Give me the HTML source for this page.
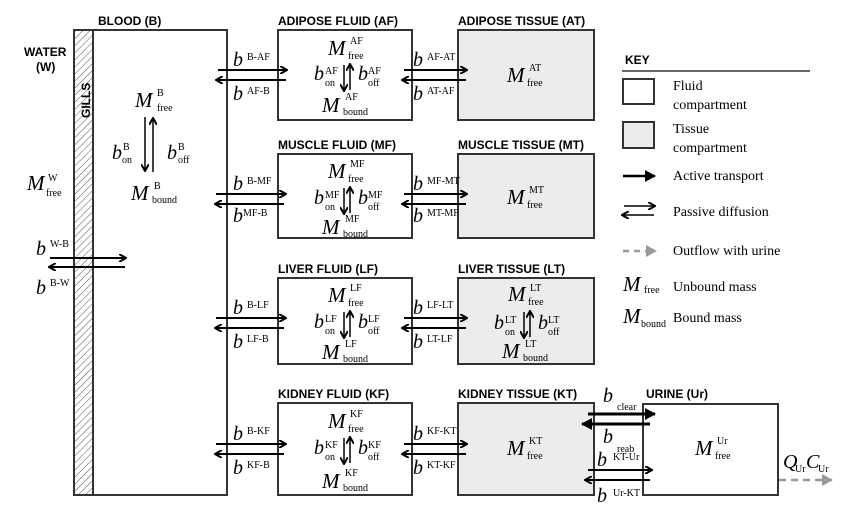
<!DOCTYPE html>
<html><head><meta charset="utf-8"><style>
html,body{margin:0;padding:0;background:#fff;}
svg{display:block;}
.h{font-family:"Liberation Sans",sans-serif;font-weight:bold;font-size:12px;}
.m{font-family:"Liberation Serif",serif;font-style:italic;font-size:21px;}
.b{font-family:"Liberation Serif",serif;font-style:italic;font-size:20px;}
.s{font-family:"Liberation Serif",serif;font-size:10px;font-style:normal;}
.k{font-family:"Liberation Serif",serif;font-size:14px;}
</style></head><body>
<svg width="860" height="506" viewBox="0 0 860 506" xmlns="http://www.w3.org/2000/svg">
<defs>
<pattern id="hatch" width="5" height="5" patternUnits="userSpaceOnUse" patternTransform="rotate(45)">
<line x1="0" y1="0" x2="0" y2="5" stroke="#555" stroke-width="1"/></pattern>
<marker id="ah" markerWidth="8" markerHeight="8" refX="6" refY="4" orient="auto" markerUnits="userSpaceOnUse">
<path d="M0,0 L7,4 L0,8" fill="none" stroke="#000" stroke-width="2"/></marker>
<marker id="ahb" markerWidth="12" markerHeight="12" refX="10" refY="6" orient="auto" markerUnits="userSpaceOnUse">
<path d="M0,0 L11,6 L0,12 Z" fill="#000"/></marker>
<marker id="ahg" markerWidth="12" markerHeight="12" refX="10" refY="6" orient="auto" markerUnits="userSpaceOnUse">
<path d="M0,0 L11,6 L0,12 Z" fill="#999"/></marker>
</defs>
<g fill="none" stroke="#333" stroke-width="2">
<rect x="74" y="30" width="153" height="465" fill="#fff"/>
<rect x="74" y="30" width="19" height="465" fill="url(#hatch)"/>
<rect x="278" y="30" width="134" height="90"/>
<rect x="278" y="154" width="134" height="84"/>
<rect x="278" y="278" width="134" height="86"/>
<rect x="278" y="403" width="134" height="92"/>
<rect x="458" y="30" width="136" height="90" fill="#ececec"/>
<rect x="458" y="154" width="136" height="84" fill="#ececec"/>
<rect x="458" y="278" width="136" height="86" fill="#ececec"/>
<rect x="458" y="403" width="136" height="92" fill="#ececec"/>
<rect x="643" y="404" width="135" height="91" fill="#fff"/>
</g>
<text class="h" x="98" y="25">BLOOD (B)</text>
<text class="h" x="278" y="25">ADIPOSE FLUID (AF)</text>
<text class="h" x="458" y="25">ADIPOSE TISSUE (AT)</text>
<text class="h" x="278" y="149">MUSCLE FLUID (MF)</text>
<text class="h" x="458" y="149">MUSCLE TISSUE (MT)</text>
<text class="h" x="278" y="273">LIVER FLUID (LF)</text>
<text class="h" x="458" y="273">LIVER TISSUE (LT)</text>
<text class="h" x="278" y="398">KIDNEY FLUID (KF)</text>
<text class="h" x="458" y="398">KIDNEY TISSUE (KT)</text>
<text class="h" x="646" y="398">URINE (Ur)</text>
<text class="h" x="24" y="56">WATER</text>
<text class="h" x="36" y="71">(W)</text>
<text class="h" transform="translate(90,118) rotate(-90)">GILLS</text>

<text class="m" x="27" y="190">M</text><text class="s" x="48" y="181">W</text><text class="s" x="46" y="196">free</text>
<text class="b" x="36" y="255">b</text><text class="s" x="50" y="247">W-B</text>
<text class="b" x="36" y="294">b</text><text class="s" x="50" y="286">B-W</text>
<g stroke="#000" stroke-width="2"><line x1="50" y1="258" x2="125" y2="258" marker-end="url(#ah)"/><line x1="125" y1="267" x2="50" y2="267" marker-end="url(#ah)"/></g>

<text class="m" x="135" y="107">M</text><text class="s" x="157" y="96">B</text><text class="s" x="157" y="111">free</text>
<g stroke="#000" stroke-width="1.5"><line x1="145" y1="117" x2="145" y2="170" marker-end="url(#ah)"/><line x1="153" y1="172" x2="153" y2="119" marker-end="url(#ah)"/></g>
<text class="b" x="112" y="159">b</text><text class="s" x="123" y="150">B</text><text class="s" x="122" y="163">on</text>
<text class="b" x="167" y="159">b</text><text class="s" x="178" y="150">B</text><text class="s" x="178" y="163">off</text>
<text class="m" x="131" y="200">M</text><text class="s" x="154" y="189">B</text><text class="s" x="152" y="203">bound</text>

<g stroke="#000" stroke-width="2">
<line x1="218" y1="70" x2="286" y2="70" marker-end="url(#ah)"/><line x1="286" y1="80" x2="217" y2="80" marker-end="url(#ah)"/>
<line x1="216" y1="194" x2="285" y2="194" marker-end="url(#ah)"/><line x1="284" y1="204" x2="216" y2="204" marker-end="url(#ah)"/>
<line x1="216" y1="318" x2="285" y2="318" marker-end="url(#ah)"/><line x1="284" y1="328" x2="216" y2="328" marker-end="url(#ah)"/>
<line x1="216" y1="444" x2="285" y2="444" marker-end="url(#ah)"/><line x1="284" y1="454" x2="216" y2="454" marker-end="url(#ah)"/>
<line x1="404" y1="70" x2="466" y2="70" marker-end="url(#ah)"/><line x1="466" y1="80" x2="403" y2="80" marker-end="url(#ah)"/>
<line x1="404" y1="194" x2="466" y2="194" marker-end="url(#ah)"/><line x1="466" y1="204" x2="403" y2="204" marker-end="url(#ah)"/>
<line x1="404" y1="318" x2="466" y2="318" marker-end="url(#ah)"/><line x1="466" y1="328" x2="403" y2="328" marker-end="url(#ah)"/>
<line x1="404" y1="444" x2="466" y2="444" marker-end="url(#ah)"/><line x1="466" y1="454" x2="403" y2="454" marker-end="url(#ah)"/>
<line x1="588" y1="470" x2="651" y2="470" marker-end="url(#ah)"/><line x1="650" y1="480" x2="586" y2="480" marker-end="url(#ah)"/>
<line x1="588" y1="414" x2="655" y2="414" stroke-width="3" marker-end="url(#ahb)"/><line x1="650" y1="424" x2="582" y2="424" stroke-width="3" marker-end="url(#ahb)"/>
</g>
<g>
<text class="b" x="233" y="66">b</text><text class="s" x="247" y="60">B-AF</text>
<text class="b" x="233" y="100">b</text><text class="s" x="247" y="94">AF-B</text>
<text class="b" x="233" y="190">b</text><text class="s" x="247" y="184">B-MF</text>
<text class="b" x="233" y="222">b</text><text class="s" x="243" y="216">MF-B</text>
<text class="b" x="233" y="314">b</text><text class="s" x="247" y="308">B-LF</text>
<text class="b" x="233" y="348">b</text><text class="s" x="247" y="342">LF-B</text>
<text class="b" x="233" y="440">b</text><text class="s" x="247" y="434">B-KF</text>
<text class="b" x="233" y="474">b</text><text class="s" x="247" y="468">KF-B</text>
<text class="b" x="413" y="66">b</text><text class="s" x="427" y="60">AF-AT</text>
<text class="b" x="413" y="100">b</text><text class="s" x="427" y="94">AT-AF</text>
<text class="b" x="413" y="190">b</text><text class="s" x="427" y="184">MF-MT</text>
<text class="b" x="413" y="222">b</text><text class="s" x="427" y="216">MT-MF</text>
<text class="b" x="413" y="314">b</text><text class="s" x="427" y="308">LF-LT</text>
<text class="b" x="413" y="348">b</text><text class="s" x="427" y="342">LT-LF</text>
<text class="b" x="413" y="440">b</text><text class="s" x="427" y="434">KF-KT</text>
<text class="b" x="413" y="474">b</text><text class="s" x="427" y="468">KT-KF</text>
<text class="b" x="603" y="402">b</text><text class="s" x="617" y="410">clear</text>
<text class="b" x="603" y="443">b</text><text class="s" x="617" y="452">reab</text>
<text class="b" x="597" y="466">b</text><text class="s" x="613" y="460">KT-Ur</text>
<text class="b" x="597" y="502">b</text><text class="s" x="613" y="496">Ur-KT</text>
</g>
<g>
<text class="m" x="328" y="55">M</text><text class="s" x="350" y="44">AF</text><text class="s" x="348" y="59">free</text>
<text class="b" x="314" y="80">b</text><text class="s" x="325" y="74">AF</text><text class="s" x="325" y="86">on</text>
<text class="b" x="358" y="80">b</text><text class="s" x="368" y="74">AF</text><text class="s" x="368" y="86">off</text>
<text class="m" x="322" y="112">M</text><text class="s" x="345" y="100">AF</text><text class="s" x="343" y="115">bound</text>

<text class="m" x="328" y="178">M</text><text class="s" x="350" y="167">MF</text><text class="s" x="348" y="182">free</text>
<text class="b" x="314" y="204">b</text><text class="s" x="325" y="198">MF</text><text class="s" x="325" y="210">on</text>
<text class="b" x="358" y="204">b</text><text class="s" x="368" y="198">MF</text><text class="s" x="368" y="210">off</text>
<text class="m" x="322" y="234">M</text><text class="s" x="345" y="222">MF</text><text class="s" x="343" y="237">bound</text>

<text class="m" x="328" y="302">M</text><text class="s" x="350" y="291">LF</text><text class="s" x="348" y="306">free</text>
<text class="b" x="314" y="328">b</text><text class="s" x="325" y="322">LF</text><text class="s" x="325" y="334">on</text>
<text class="b" x="358" y="328">b</text><text class="s" x="368" y="322">LF</text><text class="s" x="368" y="334">off</text>
<text class="m" x="322" y="359">M</text><text class="s" x="345" y="347">LF</text><text class="s" x="343" y="362">bound</text>

<text class="m" x="328" y="428">M</text><text class="s" x="350" y="417">KF</text><text class="s" x="348" y="432">free</text>
<text class="b" x="314" y="454">b</text><text class="s" x="325" y="448">KF</text><text class="s" x="325" y="460">on</text>
<text class="b" x="358" y="454">b</text><text class="s" x="368" y="448">KF</text><text class="s" x="368" y="460">off</text>
<text class="m" x="322" y="488">M</text><text class="s" x="345" y="476">KF</text><text class="s" x="343" y="491">bound</text>

<text class="m" x="508" y="301">M</text><text class="s" x="530" y="291">LT</text><text class="s" x="528" y="305">free</text>
<text class="b" x="494" y="329">b</text><text class="s" x="505" y="323">LT</text><text class="s" x="505" y="335">on</text>
<text class="b" x="538" y="329">b</text><text class="s" x="548" y="323">LT</text><text class="s" x="548" y="335">off</text>
<text class="m" x="502" y="358">M</text><text class="s" x="525" y="347">LT</text><text class="s" x="523" y="361">bound</text>

<text class="m" x="507" y="82">M</text><text class="s" x="529" y="71">AT</text><text class="s" x="527" y="86">free</text>
<text class="m" x="507" y="204">M</text><text class="s" x="529" y="193">MT</text><text class="s" x="527" y="208">free</text>
<text class="m" x="507" y="455">M</text><text class="s" x="529" y="444">KT</text><text class="s" x="527" y="459">free</text>
<text class="m" x="695" y="455">M</text><text class="s" x="717" y="444">Ur</text><text class="s" x="715" y="459">free</text>
</g>
<g stroke="#000" stroke-width="1.5">
<line x1="344" y1="65" x2="344" y2="90" marker-end="url(#ah)"/><line x1="350" y1="90" x2="350" y2="65" marker-end="url(#ah)"/>
<line x1="344" y1="188" x2="344" y2="213" marker-end="url(#ah)"/><line x1="350" y1="213" x2="350" y2="188" marker-end="url(#ah)"/>
<line x1="344" y1="312" x2="344" y2="337" marker-end="url(#ah)"/><line x1="350" y1="337" x2="350" y2="312" marker-end="url(#ah)"/>
<line x1="344" y1="438" x2="344" y2="463" marker-end="url(#ah)"/><line x1="350" y1="463" x2="350" y2="438" marker-end="url(#ah)"/>
<line x1="524" y1="312" x2="524" y2="337" marker-end="url(#ah)"/><line x1="530" y1="337" x2="530" y2="312" marker-end="url(#ah)"/>
</g>
<text class="b" x="783" y="468" font-size="16">Q</text><text class="s" x="795" y="472" font-style="italic">Ur</text>
<text class="b" x="806" y="468" font-size="16">C</text><text class="s" x="818" y="472" font-style="italic">Ur</text>
<line x1="779" y1="480" x2="832" y2="480" stroke="#999" stroke-width="2.5" stroke-dasharray="7,5" marker-end="url(#ahg)"/>

<text class="h" x="625" y="64">KEY</text>
<line x1="622" y1="71" x2="810" y2="71" stroke="#333" stroke-width="1.5"/>
<rect x="623" y="79" width="31" height="25" fill="none" stroke="#333" stroke-width="2"/>
<rect x="623" y="122" width="31" height="26" fill="#ececec" stroke="#333" stroke-width="2"/>
<text class="k" x="673" y="90">Fluid</text><text class="k" x="673" y="109">compartment</text>
<text class="k" x="673" y="133">Tissue</text><text class="k" x="673" y="152">compartment</text>
<line x1="623" y1="176" x2="655" y2="176" stroke="#000" stroke-width="2.5" marker-end="url(#ahb)"/>
<text class="k" x="673" y="180">Active transport</text>
<g stroke="#000" stroke-width="1.5"><line x1="624" y1="206" x2="654" y2="206" marker-end="url(#ah)"/><line x1="654" y1="215" x2="623" y2="215" marker-end="url(#ah)"/></g>
<text class="k" x="673" y="216">Passive diffusion</text>
<line x1="623" y1="251" x2="656" y2="251" stroke="#999" stroke-width="2.5" stroke-dasharray="6,5" marker-end="url(#ahg)"/>
<text class="k" x="673" y="255">Outflow with urine</text>
<text class="m" x="623" y="291">M</text><text class="s" x="644" y="293">free</text>
<text class="k" x="673" y="291">Unbound mass</text>
<text class="m" x="623" y="323">M</text><text class="s" x="641" y="327">bound</text>
<text class="k" x="673" y="322">Bound mass</text>
</svg>
</body></html>
